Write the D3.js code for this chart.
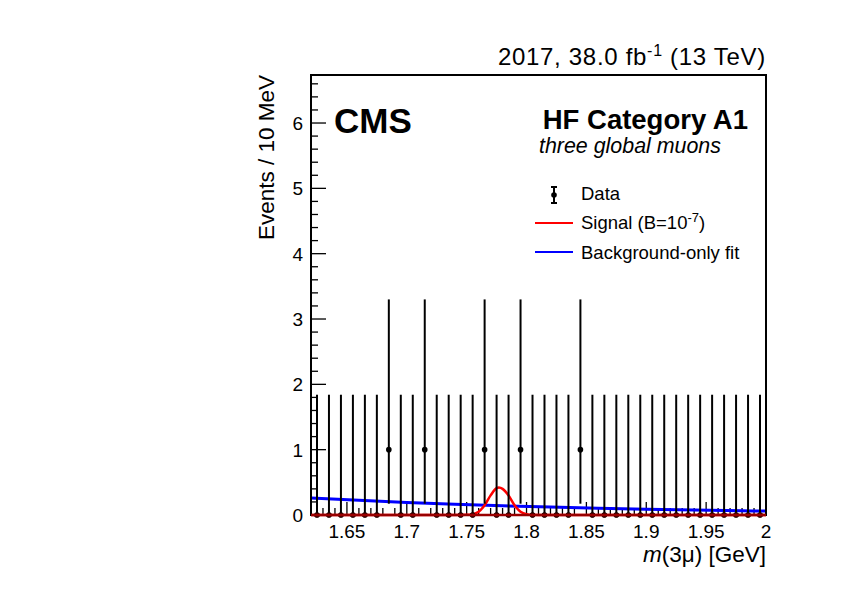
<!DOCTYPE html>
<html><head><meta charset="utf-8">
<script src="https://cdn.jsdelivr.net/npm/d3@7"></script>
<style>body{margin:0;background:#fff}svg{font-family:"Liberation Sans",Arial,sans-serif}</style>
</head><body>
<svg id="c" width="842" height="595"></svg>
<script>
// ---- data ----
const binCenters = d3.range(38).map(i => +(1.625 + i*0.01).toFixed(3));
const counts = [0,0,0,0,0,0,1,0,0,1,0,0,0,0,1,0,0,1,0,0,0,0,1,0,0,0,0,0,0,0,0,0,0,0,0,0,0,0];
const errUp =   counts.map(c => c === 0 ? 1.841 : 2.30);
const errDown = counts.map(c => c === 0 ? 0 : 0.827);
// background-only fit (read at several masses)
const bkgX = [1.62, 1.66, 1.70, 1.74, 1.78, 1.82, 1.86, 1.90, 1.94, 1.98, 2.00];
const bkgY = [0.262, 0.224, 0.192, 0.165, 0.141, 0.121, 0.104, 0.089, 0.076, 0.065, 0.060];
// signal (B=1e-7) curve
const sigX = [1.62, 1.74, 1.750, 1.755, 1.760, 1.765, 1.770, 1.775, 1.777, 1.780, 1.785, 1.790, 1.795, 1.800, 1.805, 1.81, 2.00];
const sigY = [0, 0, 0.002, 0.012, 0.05, 0.15, 0.30, 0.41, 0.42, 0.40, 0.30, 0.15, 0.05, 0.012, 0.002, 0, 0];
const xTicks = [1.65, 1.7, 1.75, 1.8, 1.85, 1.9, 1.95, 2];
const yTicks = [0,1,2,3,4,5,6];

const svg = d3.select("#c");
const L=311, R=766, T=75, B=515;
const x = d3.scaleLinear().domain([1.62, 2.0]).range([L, R]);
const y = d3.scaleLinear().domain([0, 6.735]).range([B, T]);

// y ticks
const yMinor = d3.range(0, 6.7, 0.2).filter(v => Math.abs(v - Math.round(v)) > 1e-6);
const gy = svg.append("g");
gy.selectAll(".ymin").data(yMinor).enter().append("line")
  .attr("x1", L).attr("x2", L+7).attr("y1", d=>y(d)).attr("y2", d=>y(d)).attr("stroke","#000").attr("stroke-width",1.3);
gy.selectAll(".ymaj").data(yTicks).enter().append("line")
  .attr("x1", L).attr("x2", L+15).attr("y1", d=>y(d)).attr("y2", d=>y(d)).attr("stroke","#000").attr("stroke-width",1.3);
gy.selectAll("text").data(yTicks).enter().append("text")
  .attr("x", L-8).attr("y", d=>y(d)+7).attr("text-anchor","end").attr("font-size",19).text(d=>d);

// x ticks
const xMinor = d3.range(1.63, 2.0, 0.01).filter(v => Math.abs(v*20 - Math.round(v*20)) > 1e-6);
const gx = svg.append("g");
gx.selectAll(".xmin").data(xMinor).enter().append("line")
  .attr("x1", d=>x(d)).attr("x2", d=>x(d)).attr("y1", B).attr("y2", B-7).attr("stroke","#000").attr("stroke-width",1.3);
gx.selectAll(".xmaj").data(xTicks).enter().append("line")
  .attr("x1", d=>x(d)).attr("x2", d=>x(d)).attr("y1", B).attr("y2", B-13).attr("stroke","#000").attr("stroke-width",1.3);
gx.selectAll("text").data(xTicks).enter().append("text")
  .attr("x", d=>x(d)).attr("y", B+23).attr("text-anchor","middle").attr("font-size",19).text(d=>d);

// background fit
svg.append("path").datum(bkgX.map((v,i)=>[v,bkgY[i]]))
  .attr("d", d3.line().x(d=>x(d[0])).y(d=>y(d[1])).curve(d3.curveMonotoneX))
  .attr("fill","none").attr("stroke","#0000ff").attr("stroke-width",3);

// signal
svg.append("path").datum(sigX.map((v,i)=>[v,sigY[i]]))
  .attr("d", d3.line().x(d=>x(d[0])).y(d=>y(d[1])).curve(d3.curveMonotoneX))
  .attr("fill","none").attr("stroke","#ff0000").attr("stroke-width",2.5);

// data
const gd = svg.append("g");
gd.selectAll("line").data(binCenters).enter().append("line")
  .attr("x1", d=>x(d)).attr("x2", d=>x(d))
  .attr("y1", (d,i)=>y(counts[i]-errDown[i])).attr("y2", (d,i)=>y(counts[i]+errUp[i]))
  .attr("stroke","#000").attr("stroke-width",2);
gd.selectAll("circle").data(binCenters).enter().append("circle")
  .attr("cx", d=>x(d)).attr("cy", (d,i)=>y(counts[i])).attr("r",2.8).attr("fill","#000");

// frame
svg.append("rect").attr("x",L).attr("y",T).attr("width",R-L).attr("height",B-T)
  .attr("fill","none").attr("stroke","#000").attr("stroke-width",2);
// dark red baseline of signal over axis
svg.append("line").attr("x1",L).attr("x2",R).attr("y1",B).attr("y2",B)
  .attr("stroke","#990000").attr("stroke-width",2.5);
gd.selectAll(".dot2").data(binCenters.filter((d,i)=>counts[i]===0)).enter().append("circle")
  .attr("cx", d=>x(d)).attr("cy", y(0)).attr("r",2.6).attr("fill","#3a0000");

// texts
svg.append("text").attr("x",R).attr("y",65).attr("text-anchor","end").attr("font-size",24).attr("letter-spacing",0.7)
  .html('2017, 38.0 fb<tspan dy="-9" font-size="16">-1</tspan><tspan dy="9"> (13 TeV)</tspan>');
svg.append("text").attr("x",334).attr("y",133).attr("font-size",35).attr("font-weight","bold").text("CMS");
svg.append("text").attr("x",748).attr("y",129).attr("text-anchor","end").attr("font-size",27.5).attr("font-weight","bold").text("HF Category A1");
svg.append("text").attr("x",539).attr("y",153).attr("font-size",21.4).attr("font-style","italic").text("three global muons");

// legend
const lg = svg.append("g");
lg.append("line").attr("x1",554).attr("x2",554).attr("y1",187).attr("y2",203).attr("stroke","#000").attr("stroke-width",2);
lg.append("line").attr("x1",551).attr("x2",557).attr("y1",187).attr("y2",187).attr("stroke","#000").attr("stroke-width",2);
lg.append("line").attr("x1",551).attr("x2",557).attr("y1",203).attr("y2",203).attr("stroke","#000").attr("stroke-width",2);
lg.append("circle").attr("cx",554).attr("cy",195).attr("r",2.8).attr("fill","#000");
lg.append("text").attr("x",581).attr("y",200).attr("font-size",18.5).text("Data");
lg.append("line").attr("x1",535).attr("x2",573).attr("y1",223).attr("y2",223).attr("stroke","#ff0000").attr("stroke-width",2);
lg.append("text").attr("x",581).attr("y",229).attr("font-size",18.5)
  .html('Signal (B=10<tspan dy="-7" font-size="13">-7</tspan><tspan dy="7">)</tspan>');
lg.append("line").attr("x1",535).attr("x2",573).attr("y1",252).attr("y2",252).attr("stroke","#0000ff").attr("stroke-width",2);
lg.append("text").attr("x",581).attr("y",259).attr("font-size",18.5).text("Background-only fit");

// axis titles
svg.append("text").attr("transform","translate(274,75) rotate(-90)").attr("text-anchor","end").attr("font-size",22.5).text("Events / 10 MeV");
svg.append("text").attr("x",R).attr("y",562).attr("text-anchor","end").attr("font-size",22.5)
  .html('<tspan font-style="italic">m</tspan>(3μ) [GeV]');
</script>
</body></html>
